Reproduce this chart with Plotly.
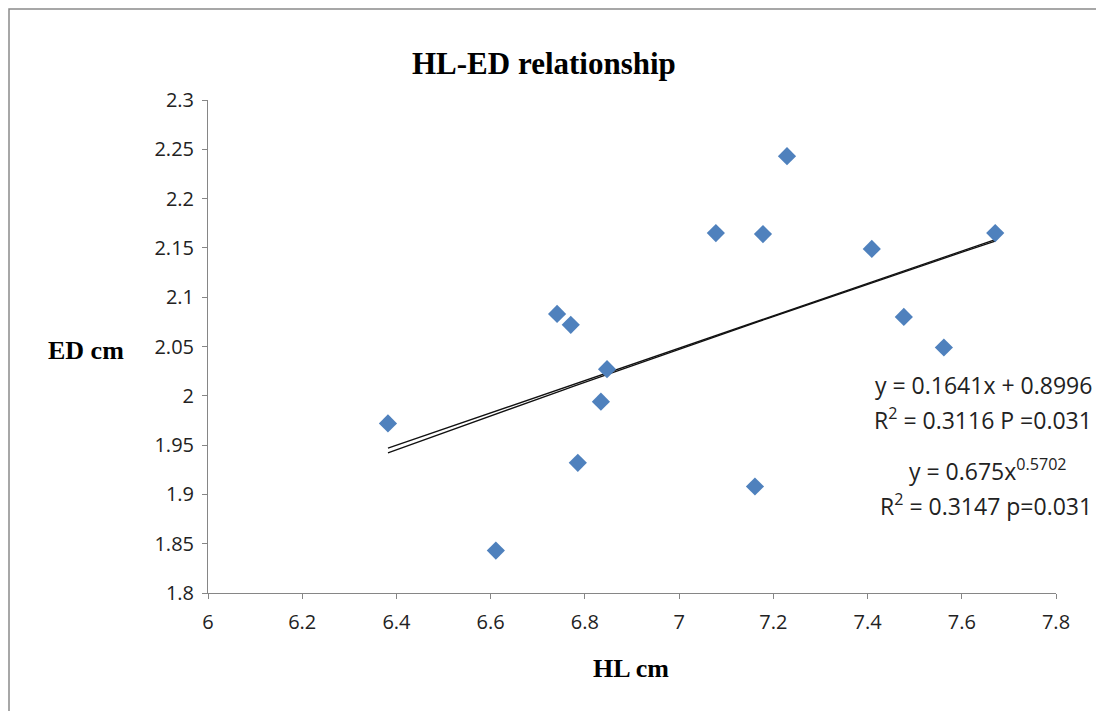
import numpy as np
import plotly.graph_objects as go

# Data
hl_cm = [6.382, 6.611, 6.741, 6.770, 6.785, 6.834, 6.847, 7.078, 7.178, 7.229, 7.161, 7.409, 7.477, 7.562, 7.671]
ed_cm = [1.972, 1.843, 2.083, 2.072, 1.932, 1.994, 2.027, 2.165, 2.164, 2.243, 1.908, 2.149, 2.080, 2.049, 2.165]

# Trendline coefficients (as displayed on the chart)
lin_slope, lin_intercept = 0.1641, 0.8996
pow_coef, pow_exp = 0.675, 0.5702

x_ticks = [6, 6.2, 6.4, 6.6, 6.8, 7, 7.2, 7.4, 7.6, 7.8]
y_ticks = [1.8, 1.85, 1.9, 1.95, 2, 2.05, 2.1, 2.15, 2.2, 2.25, 2.3]

W, H = 1096, 711
L, R, T, B = 208, 1056, 100, 593

def px(xp):
    return (xp - L) / (R - L)

def py(yp):
    return (B - yp) / (B - T)

xs = np.linspace(min(hl_cm), max(hl_cm), 60)
lin_y = lin_slope * xs + lin_intercept
pow_y = pow_coef * xs ** pow_exp

fig = go.Figure()
fig.add_trace(go.Scatter(x=xs, y=lin_y, mode="lines",
                         line=dict(color="#111111", width=1.3), hoverinfo="skip", showlegend=False))
fig.add_trace(go.Scatter(x=xs, y=pow_y, mode="lines",
                         line=dict(color="#111111", width=1.3), hoverinfo="skip", showlegend=False))
fig.add_trace(go.Scatter(x=hl_cm, y=ed_cm, mode="markers",
                         marker=dict(symbol="diamond", size=14, color="#4F81BD",
                                     line=dict(width=0)), showlegend=False))

axis_common = dict(showgrid=False, zeroline=False, showline=True, linecolor="#868686",
                   linewidth=1, ticks="outside", ticklen=5, tickcolor="#868686",
                   tickfont=dict(family="Open Sans", size=20, color="#222222"))

fig.update_xaxes(range=[6, 7.8], tickvals=x_ticks, ticktext=[f"{v:g}" for v in x_ticks],
                 ticklabelstandoff=6, **axis_common)
fig.update_yaxes(range=[1.8, 2.3], tickvals=y_ticks, ticktext=[f"{v:g}" for v in y_ticks],
                 ticklabelstandoff=4, **axis_common)

ann_font = dict(family="Open Sans", size=23, color="#222222")
annotations = [
    dict(text="<b>HL-ED relationship</b>", x=px(544), y=py(63), xanchor="center", yanchor="middle",
         font=dict(family="Liberation Serif", size=31, color="black")),
    dict(text="<b>ED cm</b>", x=px(126), y=py(350), xanchor="right", yanchor="middle",
         font=dict(family="Liberation Serif", size=26, color="black")),
    dict(text="<b>HL cm</b>", x=px(631), y=py(668), xanchor="center", yanchor="middle",
         font=dict(family="Liberation Serif", size=26, color="black")),
    dict(text="y = 0.1641x + 0.8996", x=px(1094), y=py(385), xanchor="right", yanchor="middle", font=ann_font),
    dict(text="R<sup>2</sup> = 0.3116 P =0.031", x=px(1094), y=py(419), xanchor="right", yanchor="middle", font=ann_font),
    dict(text="y = 0.675x<sup>0.5702</sup>", x=px(988), y=py(470), xanchor="center", yanchor="middle", font=ann_font),
    dict(text="R<sup>2</sup> = 0.3147 p=0.031", x=px(1094), y=py(505), xanchor="right", yanchor="middle", font=ann_font),
]
for a in annotations:
    a.update(xref="paper", yref="paper", showarrow=False)

fig.update_layout(
    width=W, height=H, autosize=False,
    margin=dict(l=L, r=W - R, t=T, b=H - B),
    paper_bgcolor="white", plot_bgcolor="white",
    annotations=annotations,
    shapes=[dict(type="rect", xref="paper", yref="paper",
                 x0=px(9), x1=px(1110), y0=py(9), y1=py(730),
                 line=dict(color="#8a8a8a", width=1.5), fillcolor="rgba(0,0,0,0)", layer="below")],
)

fig.write_html("out.html", config={"displayModeBar": False},
               post_script="document.body.style.margin='0';document.body.style.overflow='hidden';")
